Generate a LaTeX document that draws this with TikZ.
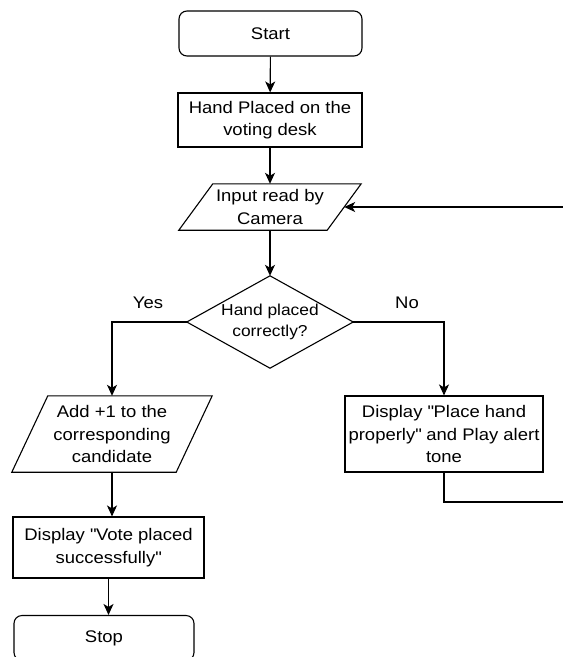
\documentclass[tikz,border=0pt]{standalone}
\usepackage{fontspec}
\setmainfont{Liberation Sans}[FakeStretch=1.1]
\usetikzlibrary{arrows.meta,calc}

\begin{document}
\begin{tikzpicture}[x=1pt,y=-1pt,
  every node/.style={font=\fontsize{16.8}{22.5}\selectfont, align=center, inner sep=0pt},
  line/.style={line width=1.1pt, draw=black},
  arr/.style={line, -{Stealth[length=11pt,width=10pt,inset=3pt]}},
  term/.style={line, rounded corners=8pt, minimum width=#1, minimum height=45pt},
  proc/.style={line, minimum width=#1},
  io/.style={minimum width=#1},
  lbl/.style={font=\fontsize{16.8}{20}\selectfont}
]
\useasboundingbox (0,0) rectangle (563,657);
\clip (0,0) rectangle (563,657);

% terminals and process boxes
\node[term=183pt] (start) at (270.5,33.5) {Start};
\node[proc=184pt, minimum height=54pt] (hand) at (270,120) {Hand Placed on the\\voting desk};

% input/output: the node box is the parallelogram's midline; the slanted outline is drawn below
\node[io=148pt, minimum height=46pt] (input) at (270,207) {Input read by\\Camera};
\draw[line] ([xshift=17pt]input.north west) -- ([xshift=17pt]input.north east)
  -- ([xshift=-17pt]input.south east) -- ([xshift=-17pt]input.south west) -- cycle;

% decision
\node[minimum width=166pt, minimum height=92pt, font=\fontsize{15.8}{21.5}\selectfont] (dec) at (270,322)
  {Hand placed\\correctly?};
\draw[line] (dec.north) -- (dec.east) -- (dec.south) -- (dec.west) -- cycle;

\node[io=164pt, minimum height=76pt] (add) at (112,434) {Add +1 to the\\corresponding\\candidate};
\draw[line] ([xshift=18pt]add.north west) -- ([xshift=18pt]add.north east)
  -- ([xshift=-18pt]add.south east) -- ([xshift=-18pt]add.south west) -- cycle;

\node[proc=198pt, minimum height=76pt] (alert) at (444,434)
  {Display \textquotedbl Place hand\\properly\textquotedbl{} and Play alert\\tone};
\node[proc=191pt, minimum height=61pt] (vote) at (108.5,547.5)
  {Display \textquotedbl Vote placed\\successfully\textquotedbl};
\node[term=180pt] (stop) at (104,638) {Stop};

% branch labels
\node[lbl] (yes) at (148,303) {Yes};
\node[lbl] (no) at (407,303) {No};

% connectors
\draw[arr] (start) -- (hand);
\draw[arr] (hand) -- (input);
\draw[arr] (input) -- (dec);
\draw[arr] (dec.west) -| (add.north);
\draw[arr] (dec.east) -| (alert.north);
\draw[arr] (add.south) -- (add.south |- vote.north);
\draw[arr] (vote.south) -- (vote.south |- stop.north);

% retry loop back to the camera input
\coordinate (loopA) at (575,502);
\draw[arr] (alert.south) |- (loopA) |- (input.east);
\end{tikzpicture}
\end{document}
